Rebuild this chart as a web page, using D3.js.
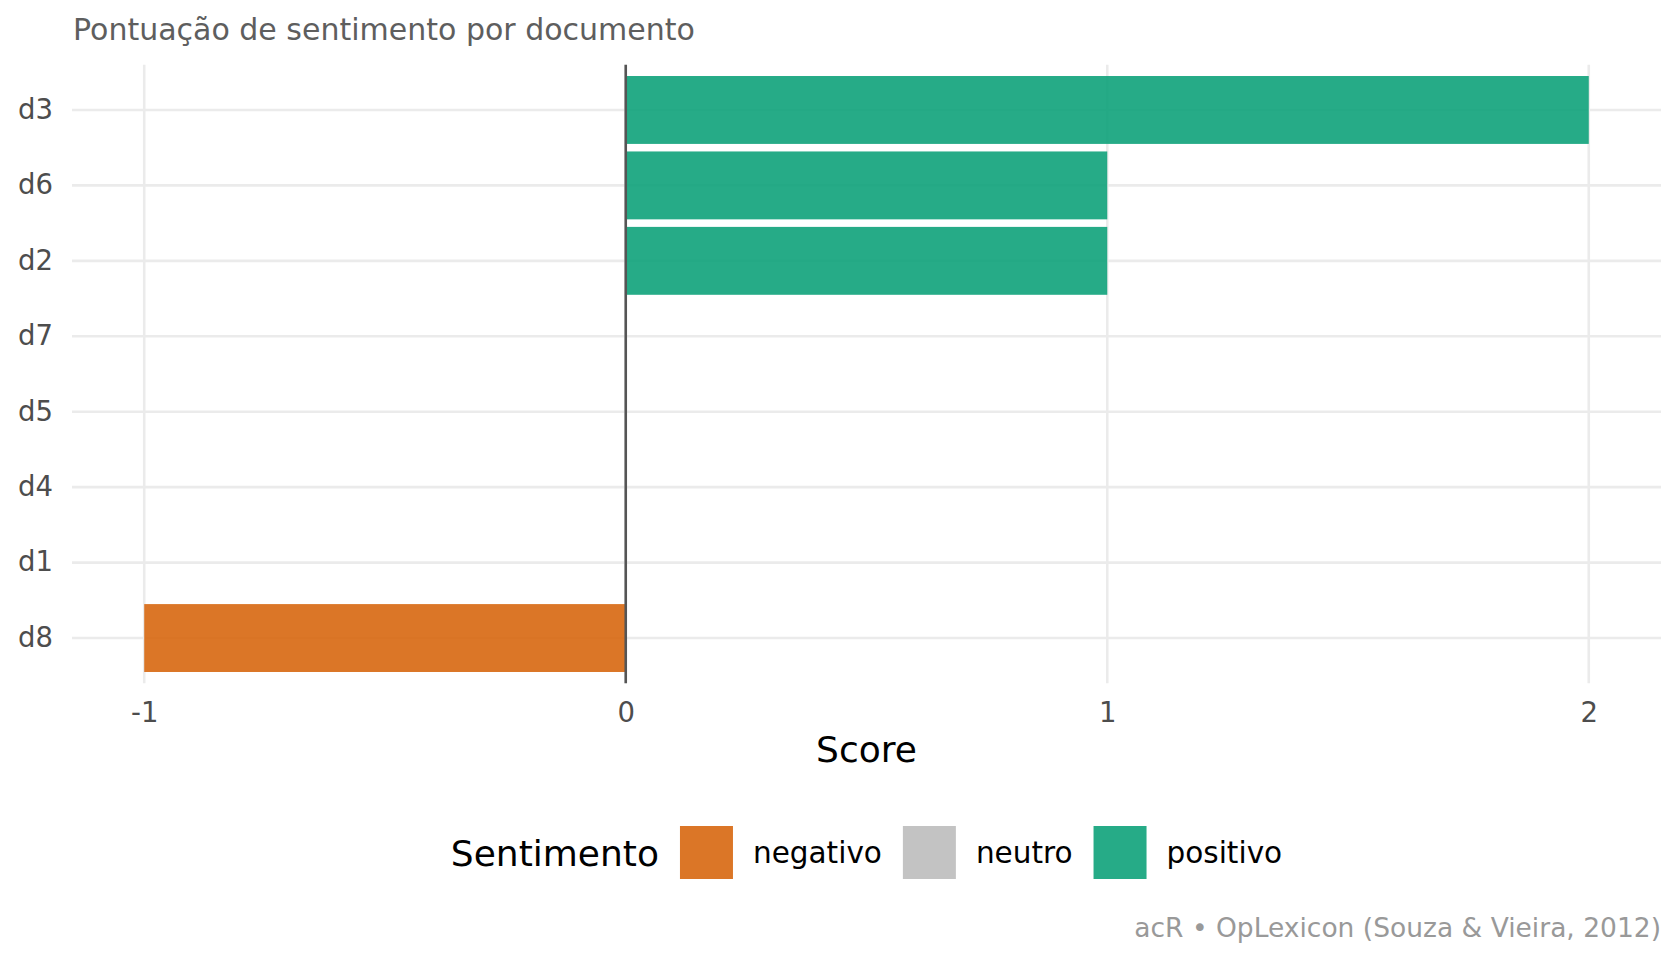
<!DOCTYPE html>
<html>
<head>
<meta charset="utf-8">
<script src="https://cdn.jsdelivr.net/npm/d3@7"></script>
<style>
  body { margin: 0; background: #fff; }
  text { font-family: "DejaVu Sans", sans-serif; }
</style>
</head>
<body>
<svg width="1680" height="960"></svg>
<script>
// documentos na ordem em que aparecem (de cima para baixo)
const docs = ["d3", "d6", "d2", "d7", "d5", "d4", "d1", "d8"];
const scores = [2, 1, 1, 0, 0, 0, 0, -1];
const sentiment = ["positivo", "positivo", "positivo", "neutro", "neutro", "neutro", "neutro", "negativo"];
const categories = ["negativo", "neutro", "positivo"];
const catColors = ["#d7670f", "#bdbdbd", "#0ea27a"];
const xTicks = [-1, 0, 1, 2];

const svg = d3.select("svg");

const pLeft = 72, pRight = 1661, pTop = 64.7, pBottom = 683.3;

const x = d3.scaleLinear().domain([-1.15, 2.15]).range([pLeft, pRight]);
const y = d3.scaleBand().domain(docs).range([pTop, pBottom])
  .paddingInner(0.1).paddingOuter(0.15);
const color = d3.scaleOrdinal().domain(categories).range(catColors);

const data = docs.map((d, i) => ({ doc: d, score: scores[i], sent: sentiment[i] }));

// grade
const grid = svg.append("g");
grid.selectAll(".gx").data(xTicks).join("line")
  .attr("x1", d => x(d)).attr("x2", d => x(d))
  .attr("y1", pTop).attr("y2", pBottom)
  .attr("stroke", "#ebebeb").attr("stroke-width", 2.6);
grid.selectAll(".gy").data(docs).join("line")
  .attr("x1", pLeft).attr("x2", pRight)
  .attr("y1", d => y(d) + y.bandwidth() / 2).attr("y2", d => y(d) + y.bandwidth() / 2)
  .attr("stroke", "#ebebeb").attr("stroke-width", 2.6);

// barras
svg.append("g").selectAll("rect").data(data).join("rect")
  .attr("x", d => x(Math.min(0, d.score)))
  .attr("width", d => Math.abs(x(d.score) - x(0)))
  .attr("y", d => y(d.doc))
  .attr("height", y.bandwidth())
  .attr("fill", d => color(d.sent))
  .attr("fill-opacity", 0.9);

// linha do zero
svg.append("line")
  .attr("x1", x(0)).attr("x2", x(0))
  .attr("y1", pTop).attr("y2", pBottom)
  .attr("stroke", "#555555").attr("stroke-width", 2.6);

// eixos
const xAxis = svg.append("g")
  .attr("transform", `translate(0,${pBottom + 16})`)
  .call(d3.axisBottom(x).tickValues(xTicks).tickSize(0).tickFormat(d => String(d)));
xAxis.select(".domain").remove();
xAxis.selectAll("text").attr("font-size", 27.5).attr("fill", "#4d4d4d")
  .attr("font-family", "DejaVu Sans").attr("dy", "0.71em");

const yAxis = svg.append("g")
  .attr("transform", `translate(${pLeft - 16},0)`)
  .call(d3.axisLeft(y).tickSize(0));
yAxis.select(".domain").remove();
yAxis.selectAll("text").attr("font-size", 27.5).attr("fill", "#4d4d4d")
  .attr("font-family", "DejaVu Sans");

// títulos
svg.append("text").attr("x", 73).attr("y", 40)
  .attr("font-size", 30).attr("fill", "#5e5e5e")
  .text("Pontuação de sentimento por documento");

svg.append("text").attr("x", (pLeft + pRight) / 2).attr("y", 762)
  .attr("text-anchor", "middle").attr("font-size", 36).attr("fill", "#000")
  .text("Score");

svg.append("text").attr("x", pRight).attr("y", 937)
  .attr("text-anchor", "end").attr("font-size", 26.5).attr("fill", "#999999")
  .text("acR • OpLexicon (Souza & Vieira, 2012)");

// legenda
const leg = svg.append("g");
const keySize = 53, legY = 826;
const legTitle = leg.append("text").attr("y", legY + keySize / 2 + 13)
  .attr("font-size", 36).attr("fill", "#000").text("Sentimento");
let cx = legTitle.node().getComputedTextLength() + 21;
categories.forEach((c, i) => {
  leg.append("rect").attr("x", cx).attr("y", legY)
    .attr("width", keySize).attr("height", keySize)
    .attr("fill", color(c)).attr("fill-opacity", 0.9);
  cx += keySize + 20;
  const t = leg.append("text").attr("x", cx).attr("y", legY + keySize / 2 + 10)
    .attr("font-size", 29.5).attr("fill", "#000").text(c);
  cx += t.node().getComputedTextLength() + (i < categories.length - 1 ? 21 : 0);
});
leg.attr("transform", `translate(${(pLeft + pRight) / 2 - cx / 2},0)`);
</script>
</body>
</html>
